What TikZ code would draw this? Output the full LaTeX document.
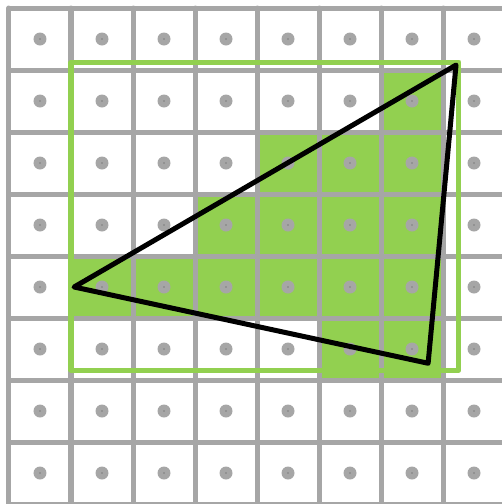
\documentclass[tikz,border=0pt]{standalone}
\usetikzlibrary{positioning}
\definecolor{cellgreen}{HTML}{92D050}
\definecolor{gridgray}{HTML}{A6A6A6}
\definecolor{coregray}{HTML}{7F7F7F}
\tikzset{
  gridline/.style={draw=gridgray, line width=5pt, line cap=round},
  pix/.style={fill=cellgreen},
  sample/.style={circle, fill=gridgray, minimum size=13pt, inner sep=0pt},
  bbox/.style={draw=cellgreen, line width=5pt, line join=round},
  tri/.style={draw=black, line width=5pt, line join=round},
}

\begin{document}
\begin{tikzpicture}[x=62pt, y=-62pt]
  \clip (-9/62,-8/62) rectangle (493/62,496/62);
  % covered pixels
  \foreach \c/\r in {6/1, 4/2,5/2,6/2, 3/3,4/3,5/3,6/3,
                     1/4,2/4,3/4,4/4,5/4,6/4, 5/5,6/5}
    \fill[pix] (\c,\r) rectangle ++(1,1);
  % pixel grid
  \foreach \i in {0,...,8} {
    \draw[gridline] (\i,0) -- (\i,8.3);
    \draw[gridline] (0,\i) -- (8.3,\i);
  }
  % sample points
  \foreach \c in {0,...,7}
    \foreach \r in {0,...,7} {
      \node[sample] (s\c\r) at (\c+0.5,\r+0.5) {};
      \fill[coregray] (s\c\r.center) circle (0.8pt);
    }
  % bounding box
  \coordinate (bl) at (1,5.84);
  \coordinate (tr) at (7.258,0.871);
  \draw[bbox] (bl) rectangle (tr);
  % triangle
  \coordinate (pa) at (1.05,4.5);
  \coordinate (pb) at (7.21,0.92);
  \coordinate (pc) at (6.76,5.73);
  \draw[tri] (pa) -- (pb) -- (pc) -- cycle;
\end{tikzpicture}
\end{document}
